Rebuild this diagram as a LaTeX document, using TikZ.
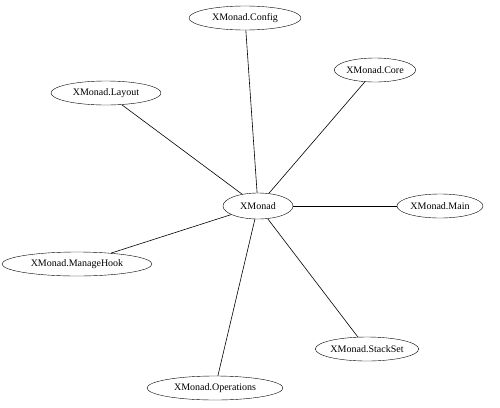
\documentclass[tikz,border=0pt]{standalone}
\usepackage{fontspec}
\setmainfont{Liberation Serif}
\usetikzlibrary{shapes.geometric}
\begin{document}
\begin{tikzpicture}[x=1pt,y=-1pt,
  mod/.style={draw, ellipse, inner sep=0pt, minimum height=24pt, font=\fontsize{10}{12}\selectfont},
  link/.style={draw, line width=0.6pt}]
\useasboundingbox (0,0) rectangle (500,407);
\node[mod, minimum width=112pt] (config) at (245,18) {XMonad.Config};
\node[mod, minimum width=70pt] (core) at (375,70) {XMonad.Core};
\node[mod, minimum width=110pt] (layout) at (106,93) {XMonad.Layout};
\node[mod, minimum width=70pt, minimum height=26pt] (xm) at (258,206) {XMonad};
\node[mod, minimum width=86pt] (main) at (440,206) {XMonad.Main};
\node[mod, minimum width=150pt] (mh) at (77,264) {XMonad.ManageHook};
\node[mod, minimum width=96pt] (ss) at (367,349) {XMonad.StackSet};
\node[mod, minimum width=136pt] (ops) at (215,388) {XMonad.Operations};
\draw[link] (xm) -- (config);
\draw[link] (xm) -- (core);
\draw[link] (xm) -- (layout);
\draw[link] (xm) -- (main);
\draw[link] (xm) -- (mh);
\draw[link] (xm) -- (ss);
\draw[link] (xm) -- (ops);
\end{tikzpicture}
\end{document}
